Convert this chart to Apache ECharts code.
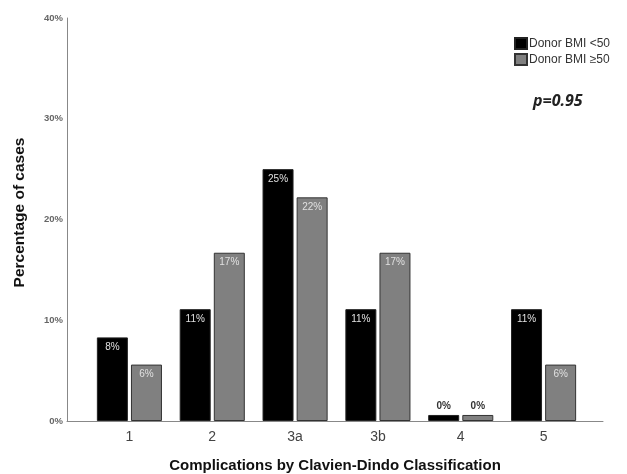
<!DOCTYPE html>
<html>
<head>
<meta charset="utf-8">
<script src="https://cdn.jsdelivr.net/npm/echarts@6/dist/echarts.min.js"></script>
<style>html,body{margin:0;padding:0;background:#fff}#c{width:627px;height:474px}</style>
</head>
<body>
<div id="c"></div>
<script>
const categories = ['1', '2', '3a', '3b', '4', '5'];
const seriesNames = ['Donor BMI <50', 'Donor BMI \u226550'];
const valuesLow = [8.3, 11.1, 25.0, 11.1, 0.6, 11.1];
const valuesHigh = [5.6, 16.7, 22.2, 16.7, 0.6, 5.6];
const labelsLow = ['8%', '11%', '25%', '11%', '0%', '11%'];
const labelsHigh = ['6%', '17%', '22%', '17%', '0%', '6%'];
const yTicks = [0, 10, 20, 30, 40];
const pText = 'p=0.95';

const FONT = '"Liberation Sans", Arial, sans-serif';

function makeData(vals, labels) {
  return vals.map((v, i) => {
    const small = v < 2;
    return {
      value: v,
      label: {
        show: true,
        formatter: labels[i],
        position: small ? 'top' : 'insideTop',
        distance: small ? 4 : 5,
        color: small ? '#333' : '#e0e0e0',
        fontSize: 10,
        fontWeight: small ? 'bold' : 'normal',
        fontFamily: FONT
      }
    };
  });
}

const chart = echarts.init(document.getElementById('c'), null, {renderer: 'canvas'});
chart.setOption({
  animation: false,
  backgroundColor: '#fff',
  textStyle: {fontFamily: FONT},
  legend: {
    orient: 'vertical',
    left: 514,
    top: 37,
    padding: 0,
    itemWidth: 12,
    itemHeight: 11,
    itemGap: 3,
    icon: 'rect',
    textStyle: {fontSize: 12, color: '#333', fontFamily: FONT, padding: [0, 0, 0, -3]},
    data: seriesNames
  },
  graphic: [{
    type: 'text',
    left: 533,
    top: 93,
    style: {text: pText, font: 'italic bold 16px "Open Sans", sans-serif', fill: '#222'}
  }],
  grid: [
    {left: 88, right: 42, top: 18, bottom: 53, containLabel: false, outerBoundsMode: 'none'},
    {left: 67, right: 24, top: 18, bottom: 53, containLabel: false, outerBoundsMode: 'none'}
  ],
  xAxis: [
    {
      type: 'category', gridIndex: 0, data: categories,
      axisLine: {show: false}, axisTick: {show: false},
      axisLabel: {fontSize: 14, color: '#444', margin: 9, fontFamily: FONT}
    },
    {
      type: 'value', gridIndex: 1, min: 0, max: 1,
      axisLine: {show: true, lineStyle: {color: '#888', width: 1}},
      axisTick: {show: false}, axisLabel: {show: false}, splitLine: {show: false},
      name: 'Complications by Clavien-Dindo Classification',
      nameLocation: 'middle', nameGap: 37,
      nameTextStyle: {fontSize: 15, fontWeight: 'bold', color: '#111', fontFamily: FONT}
    }
  ],
  yAxis: [
    {
      type: 'value', gridIndex: 0, min: yTicks[0], max: yTicks[yTicks.length - 1], interval: 10,
      offset: 21,
      axisLine: {show: true, lineStyle: {color: '#888', width: 1}},
      axisTick: {show: false}, splitLine: {show: false},
      axisLabel: {formatter: '{value}%', fontSize: 9.5, fontWeight: 'bold', color: '#666', margin: 4, fontFamily: FONT},
      name: 'Percentage of cases', nameLocation: 'middle', nameGap: 39,
      nameTextStyle: {fontSize: 15.5, fontWeight: 'bold', color: '#111', fontFamily: FONT, padding: [0, 0, 0, 14]}
    },
    {
      type: 'value', gridIndex: 1, min: 0, max: 1, show: false
    }
  ],
  series: [
    {
      name: seriesNames[0], type: 'bar', xAxisIndex: 0, yAxisIndex: 0,
      barWidth: 31, barGap: '10%',
      itemStyle: {color: '#000', borderColor: '#222', borderWidth: 1},
      data: makeData(valuesLow, labelsLow)
    },
    {
      name: seriesNames[1], type: 'bar', xAxisIndex: 0, yAxisIndex: 0,
      barWidth: 31, barGap: '10%',
      itemStyle: {color: '#808080', borderColor: '#333', borderWidth: 1},
      data: makeData(valuesHigh, labelsHigh)
    }
  ]
});
</script>
</body>
</html>
